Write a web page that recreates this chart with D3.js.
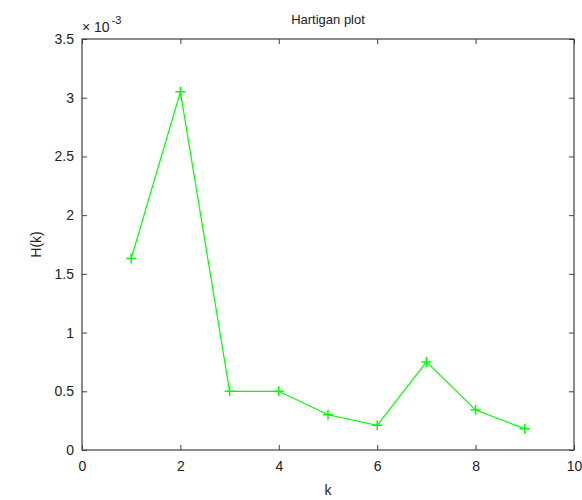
<!DOCTYPE html>
<html>
<head>
<meta charset="utf-8">
<script src="https://cdn.jsdelivr.net/npm/d3@7"></script>
<style>
  body { margin: 0; background: #fff; }
  text { font-family: "Liberation Sans", Arial, sans-serif; font-size: 13px; fill: #222; }
</style>
</head>
<body>
<div id="chart"></div>
<script>
// Hartigan index per number of clusters (values in units of 1e-3)
var kValues = [1, 2, 3, 4, 5, 6, 7, 8, 9];
var hValues = [1.63, 3.05, 0.50, 0.50, 0.30, 0.21, 0.75, 0.34, 0.18];
var xTicks = [0, 2, 4, 6, 8, 10];
var yTicks = [0, 0.5, 1, 1.5, 2, 2.5, 3, 3.5];

var W = 582, H = 500;
var mLeft = 82, mRight = 574, mTop = 39, mBottom = 450;

var svg = d3.select("#chart").append("svg")
    .attr("width", W)
    .attr("height", H);

var x = d3.scaleLinear().domain([0, 10]).range([mLeft, mRight]);
var y = d3.scaleLinear().domain([0, 3.5]).range([mBottom, mTop]);

var axisColor = "#404040";

// tick marks inward, on all four sides
svg.append("g")
    .attr("transform", "translate(0," + mBottom + ")")
    .call(d3.axisBottom(x).tickValues(xTicks).tickSize(-5).tickPadding(11).tickFormat(d3.format("d")))
    .call(g => g.select(".domain").remove());
svg.append("g")
    .attr("transform", "translate(0," + mTop + ")")
    .call(d3.axisTop(x).tickValues(xTicks).tickSize(-5).tickFormat(""))
    .call(g => g.select(".domain").remove());
svg.append("g")
    .attr("transform", "translate(" + mLeft + ",0)")
    .call(d3.axisLeft(y).tickValues(yTicks).tickSize(-5).tickPadding(8).tickFormat(d => d))
    .call(g => g.select(".domain").remove());
svg.append("g")
    .attr("transform", "translate(" + mRight + ",0)")
    .call(d3.axisRight(y).tickValues(yTicks).tickSize(-5).tickFormat(""))
    .call(g => g.select(".domain").remove());

svg.selectAll(".tick line").attr("stroke", axisColor);
svg.selectAll(".tick text").style("font-size", "14px").attr("fill", "#222");

// box
svg.append("rect")
    .attr("x", mLeft)
    .attr("y", mTop)
    .attr("width", mRight - mLeft)
    .attr("height", mBottom - mTop)
    .attr("fill", "none")
    .attr("stroke", axisColor)
    .attr("stroke-width", 1.2);

// exponent label
var ex = svg.append("text")
    .attr("x", mLeft)
    .attr("y", mTop - 7)
    .style("font-size", "14px");
ex.append("tspan").text("\u00d7 10");
ex.append("tspan").attr("dy", -8).attr("dx", 2).style("font-size", "11px").text("-3");

// line
var pts = kValues.map((k, i) => [k, hValues[i]]);
svg.append("path")
    .datum(pts)
    .attr("fill", "none")
    .attr("stroke", "#00ff00")
    .attr("stroke-width", 1.2)
    .attr("d", d3.line().x(d => x(d[0])).y(d => y(d[1])));

// plus markers
var m = 5;
svg.selectAll(".mk")
    .data(pts)
    .enter().append("path")
    .attr("class", "mk")
    .attr("fill", "none")
    .attr("stroke", "#00ff00")
    .attr("stroke-width", 1.5)
    .attr("d", d => {
        var px = x(d[0]), py = y(d[1]);
        return "M" + (px - m) + "," + py + "H" + (px + m) + "M" + px + "," + (py - m) + "V" + (py + m);
    });

// title and labels
svg.append("text")
    .attr("x", (mLeft + mRight) / 2)
    .attr("y", 24)
    .attr("text-anchor", "middle")
    .text("Hartigan plot");

svg.append("text")
    .attr("x", (mLeft + mRight) / 2)
    .attr("y", 495)
    .attr("text-anchor", "middle")
    .style("font-size", "14px")
    .text("k");

svg.append("text")
    .attr("transform", "translate(41," + (mTop + mBottom) / 2 + ") rotate(-90)")
    .attr("text-anchor", "middle")
    .style("font-size", "14px")
    .text("H(k)");
</script>
</body>
</html>
